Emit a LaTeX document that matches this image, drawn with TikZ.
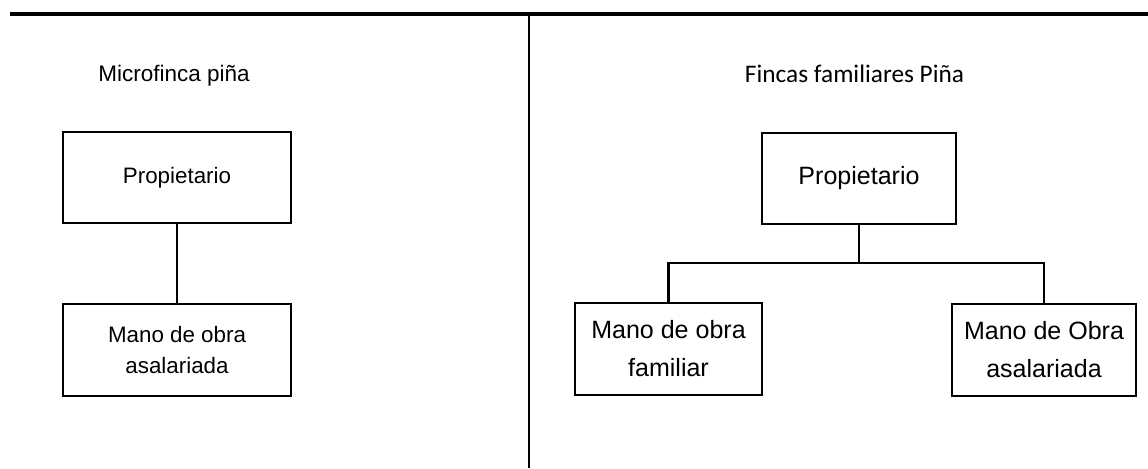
\documentclass[tikz,border=0pt]{standalone}
\usepackage{fontspec}
\setmainfont{Liberation Sans}
\newfontfamily\calibri{Carlito}
\tikzset{
  caja/.style={draw, line width=1.8pt, inner sep=0pt, align=center},
  linea/.style={line width=1.7pt},
  chico/.style={font=\fontsize{15.9}{22.5}\selectfont},
  grande/.style={font=\fontsize{17.8}{27}\selectfont}
}
\begin{document}
\begin{tikzpicture}[x=0.025cm,y=-0.025cm]
    \useasboundingbox (0,0) rectangle (1148,468);
    \draw[line width=2.2pt] (10,14) -- (1148,14);
    \draw[line width=2pt] (529,14) -- (529,468);

    \node[anchor=base, font=\fontsize{16}{20}\selectfont] (tmicro) at (174,81) {Microfinca piña};
    \node[caja, chico, minimum width=5.7cm, minimum height=2.275cm] (prop1) at (177,177.5) {Propietario};
    \node[caja, chico, minimum width=5.7cm, minimum height=2.3cm] (mano1) at (177,350) {Mano de obra\\asalariada};
    \draw[linea] (prop1) -- (mano1);

    \node[anchor=base, font=\calibri\fontsize{18}{22}\selectfont] (tfam) at (854.5,82.3) {Fincas familiares Piña};
    \node[caja, grande, minimum width=4.85cm, minimum height=2.275cm] (prop2) at (859,178.5) {Propietario};
    \node[caja, grande, minimum width=4.675cm, minimum height=2.3cm] (fam) at (668.5,349) {Mano de obra\\familiar};
    \node[caja, grande, minimum width=4.6cm, minimum height=2.3cm] (asal2) at (1044,350) {Mano de Obra\\asalariada};
    \coordinate (split) at (852,262.7);
    \draw[linea] (prop2.south) -- (prop2.south |- split);
    \draw[linea] (fam.north) |- (split) -| (asal2.north);
\end{tikzpicture}
\end{document}
